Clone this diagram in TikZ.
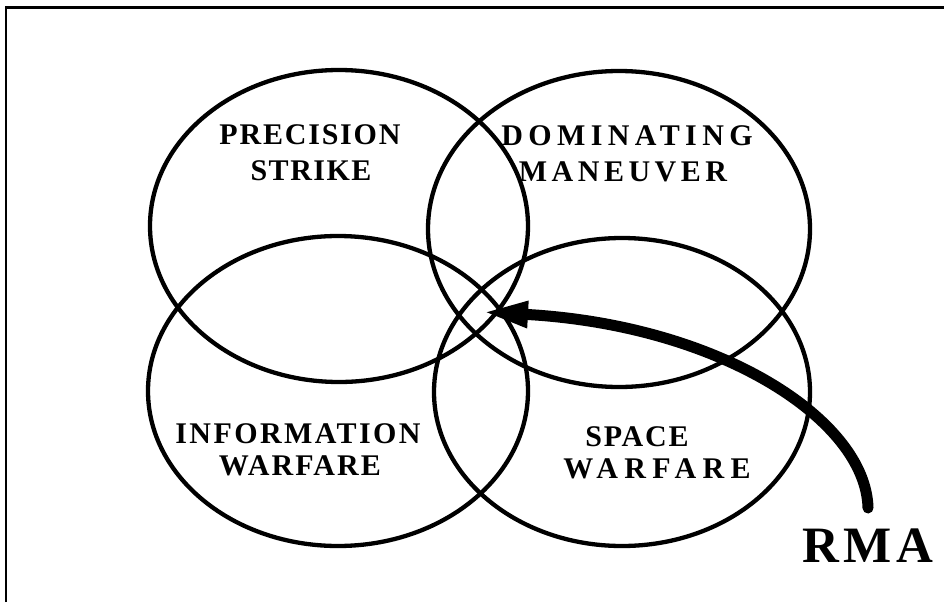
\documentclass[tikz,border=0pt]{standalone}
\usepackage{fontspec}
\setmainfont{Liberation Serif}
\newfontfamily\labfont{Liberation Serif}
\usetikzlibrary{arrows.meta}
\begin{document}
\begin{tikzpicture}[x=1pt,y=-1pt,
  ring/.style={draw=black,line width=4.3pt},
  lab/.style={anchor=base,inner sep=0pt,
    font=\labfont\bfseries\fontsize{30}{32}\selectfont\addfontfeature{LetterSpace=#1}},
  bigarrow/.style={line width=11pt,line cap=round,
    -{Triangle[length=46pt,width=24pt]}},
  frameline/.style={line width=2.5pt}]
  \useasboundingbox (0,0) rectangle (944,602);
  % frame edges
  \coordinate (fa) at (6,602);
  \coordinate (fb) at (6,7.5);
  \coordinate (fc) at (944,7.5);
  \draw[frameline] (fa) -- (fb) -- (fc);
  % the four overlapping rings
  \draw[ring] (339,226) ellipse [x radius=189,y radius=156];
  \draw[ring] (619,229) ellipse [x radius=191,y radius=158];
  \draw[ring] (338,391) ellipse [x radius=190,y radius=155];
  \draw[ring] (622,392) ellipse [x radius=188,y radius=154];
  % ring labels
  \node[lab=6] (ps1) at (310,144) {PRECISION};
  \node[lab=5] (ps2) at (311,180) {STRIKE};
  \node[lab=18] (dm1) at (627,145) {DOMINATING};
  \node[lab=15] (dm2) at (623,181) {MANEUVER};
  \node[lab=8] (iw1) at (298,443) {INFORMATION};
  \node[lab=7] (iw2) at (300,475) {WARFARE};
  \node[lab=6] (sw1) at (637,446) {SPACE};
  \node[lab=21] (sw2) at (657,478) {WARFARE};
  % RMA and its arrow into the common overlap
  \node[anchor=base,inner sep=0pt,font=\labfont\bfseries\fontsize{51}{54}\selectfont\addfontfeature{LetterSpace=9}]
    (rma) at (868,562) {RMA};
  \coordinate (tail) at (868,508);
  \coordinate (core) at (482,312);
  \draw[bigarrow] (tail) .. controls (866,420) and (720,325) .. (core);
\end{tikzpicture}
\end{document}
